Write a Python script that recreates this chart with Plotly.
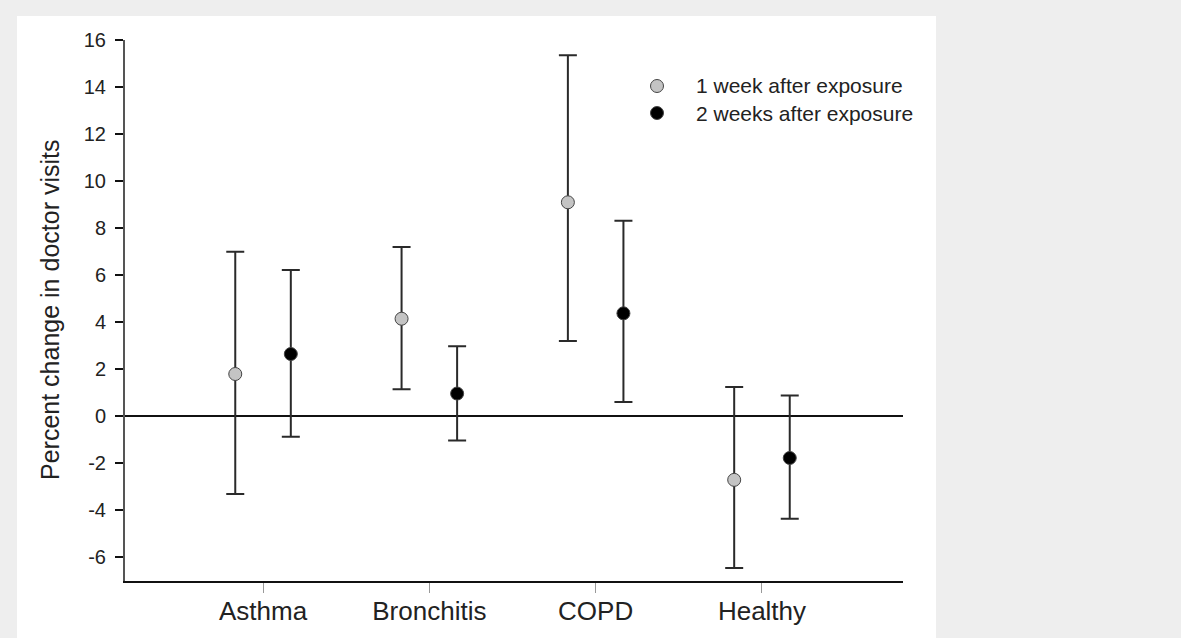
import plotly.graph_objects as go

categories = ["Asthma", "Bronchitis", "COPD", "Healthy"]
cat_pos = [0, 1, 2, 3]
week1 = [1.8, 4.15, 9.1, -2.7]
week1_lo = [-3.3, 1.15, 3.2, -6.45]
week1_hi = [7.0, 7.2, 15.35, 1.25]
week2 = [2.65, 0.97, 4.38, -1.77]
week2_lo = [-0.87, -1.03, 0.61, -4.35]
week2_hi = [6.22, 2.98, 8.32, 0.89]
y_ticks = [-6, -4, -2, 0, 2, 4, 6, 8, 10, 12, 14, 16]
y_tick_text = ["-6", "-4", "-2", "0", "2", "4", "6", "8", "10", "12", "14", "16"]
series_names = ["1 week after exposure", "2 weeks after exposure"]
series_fills = ["#c4c4c4", "#000000"]

offset = 0.167
FONT = "Liberation Sans, Arial, sans-serif"

fig = go.Figure()

def add_series(vals, lo, hi, name, fill, xoff):
    fig.add_trace(go.Scatter(
        x=[p + xoff for p in cat_pos], y=vals, mode="markers", name=name,
        showlegend=False,
        marker=dict(size=13, color=fill, line=dict(color="#444444", width=1)),
        error_y=dict(type="data", symmetric=False,
                     array=[h - v for h, v in zip(hi, vals)],
                     arrayminus=[v - l for v, l in zip(vals, lo)],
                     color="#2a2a2a", thickness=2, width=9),
    ))

add_series(week1, week1_lo, week1_hi, series_names[0], series_fills[0], -offset)
add_series(week2, week2_lo, week2_hi, series_names[1], series_fills[1], offset)

W, H = 1181, 638
L, R, T, B = 125, 278, 40, 57
pw, ph = W - L - R, H - T - B

def px_x(p):
    return (p - L) / pw

def px_y(p):
    return (H - B - p) / ph

fig.add_shape(type="rect", xref="paper", yref="paper",
              x0=px_x(17), x1=px_x(936), y0=px_y(645), y1=px_y(16),
              fillcolor="white", line=dict(width=0), layer="below")

# manual legend
for i, (name, fill) in enumerate(zip(series_names, series_fills)):
    cy = 86 + 27 * i
    fig.add_shape(type="circle", xref="paper", yref="paper",
                  xsizemode="pixel", ysizemode="pixel",
                  xanchor=px_x(657), yanchor=px_y(cy),
                  x0=-6.5, x1=6.5, y0=-6.5, y1=6.5,
                  fillcolor=fill, line=dict(color="#444444", width=1))
    fig.add_annotation(text=name, xref="paper", yref="paper",
                       x=px_x(694), y=px_y(cy), xanchor="left", yanchor="middle",
                       showarrow=False,
                       font=dict(family=FONT, size=21, color="#222222"))

fig.add_annotation(text="Percent change in doctor visits", textangle=-90,
                   xref="paper", yref="paper", x=px_x(50), y=px_y(310),
                   xanchor="center", yanchor="middle", showarrow=False,
                   font=dict(family=FONT, size=25, color="#222222"))

fig.update_layout(
    width=W, height=H,
    margin=dict(l=L, r=R, t=T, b=B, autoexpand=False),
    paper_bgcolor="#eeeeee", plot_bgcolor="white",
    font=dict(family=FONT, color="#222222"),
    showlegend=False,
    xaxis=dict(range=[-0.830, 3.848], tickvals=cat_pos, ticktext=categories,
               showgrid=False, zeroline=False, showline=True, linecolor="#111111",
               linewidth=2, ticks="outside", ticklen=10, tickcolor="#999999",
               tickwidth=1, tickfont=dict(size=26, color="#222222"),
               automargin=False, ticklabelstandoff=-4),
    yaxis=dict(range=[-7, 16], tickvals=y_ticks, ticktext=y_tick_text,
               showgrid=False, automargin=False,
               zeroline=True, zerolinecolor="#111111", zerolinewidth=2,
               showline=True, linecolor="#555555", linewidth=2,
               ticks="outside", ticklen=8, tickcolor="#111111", tickwidth=2,
               tickfont=dict(size=20, color="#222222"), ticklabelstandoff=5),
)

fig.write_html("out.html")
